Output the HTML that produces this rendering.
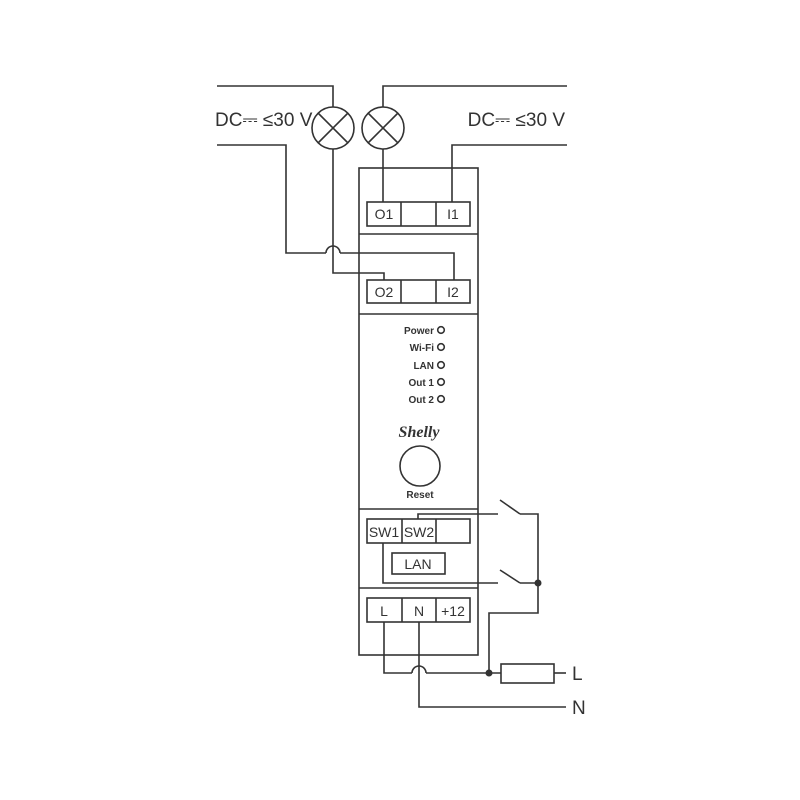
<!DOCTYPE html>
<html><head><style>body{margin:0;background:#fff}svg{display:block}</style></head><body>
<svg width="800" height="800" viewBox="0 0 800 800" xmlns="http://www.w3.org/2000/svg" font-family="Liberation Sans, DejaVu Sans, sans-serif">
<g fill="none" stroke="#333" stroke-width="1.6">
<!-- device -->
<rect x="359" y="168" width="119" height="487"/>
<line x1="359" y1="234" x2="478" y2="234"/>
<line x1="359" y1="314" x2="478" y2="314"/>
<line x1="359" y1="509" x2="478" y2="509"/>
<line x1="359" y1="588" x2="478" y2="588"/>
<!-- terminal blocks -->
<rect x="367" y="202" width="103" height="24"/><line x1="401" y1="202" x2="401" y2="226"/><line x1="436" y1="202" x2="436" y2="226"/>
<rect x="367" y="280" width="103" height="23"/><line x1="401" y1="280" x2="401" y2="303"/><line x1="436" y1="280" x2="436" y2="303"/>
<rect x="367" y="519" width="103" height="24"/><line x1="402" y1="519" x2="402" y2="543"/><line x1="436" y1="519" x2="436" y2="543"/>
<rect x="392" y="553" width="53" height="21"/>
<rect x="367" y="598" width="103" height="24"/><line x1="402" y1="598" x2="402" y2="622"/><line x1="436" y1="598" x2="436" y2="622"/>
<!-- lamps -->
<circle cx="333" cy="128" r="21"/><line x1="318" y1="113" x2="348" y2="143"/><line x1="348" y1="113" x2="318" y2="143"/>
<circle cx="383" cy="128" r="21"/><line x1="368" y1="113" x2="398" y2="143"/><line x1="398" y1="113" x2="368" y2="143"/>
<!-- top wires -->
<polyline points="217,86 333,86 333,107"/>
<polyline points="567,86 383,86 383,107"/>
<polyline points="383,149 383,202"/>
<polyline points="567,145 452,145 452,202"/>
<polyline points="217,145 286,145 286,253 326,253"/>
<path d="M326,253 A7,7 0 0 1 340,253"/>
<polyline points="340,253 454,253 454,280"/>
<polyline points="333,149 333,273 384,273 384,280"/>
<!-- switches -->
<polyline points="418,519 418,514 498,514"/>
<line x1="500" y1="500" x2="520" y2="514"/>
<polyline points="520,514 538,514 538,613 489,613 489,673"/>
<polyline points="383,543 383,583 498,583"/>
<line x1="500" y1="570" x2="520" y2="583"/>
<line x1="520" y1="583" x2="538" y2="583"/>
<!-- bottom wires -->
<polyline points="384,622 384,673 412,673"/>
<path d="M412,673 A7,7 0 0 1 426,673"/>
<polyline points="426,673 501,673"/>
<rect x="501" y="664" width="53" height="19"/>
<line x1="554" y1="673" x2="566" y2="673"/>
<polyline points="419,622 419,707 566,707"/>
<!-- LEDs -->
<circle cx="441" cy="330" r="3.3"/><circle cx="441" cy="347" r="3.3"/><circle cx="441" cy="365" r="3.3"/><circle cx="441" cy="382" r="3.3"/><circle cx="441" cy="399" r="3.3"/>
<circle cx="420" cy="466" r="20"/>
</g>
<circle cx="538" cy="583" r="3.5" fill="#333"/>
<circle cx="489" cy="673" r="3.5" fill="#333"/>
<g fill="#333" font-size="19">
<text x="215" y="126">DC⎓ ≤30 V</text>
<text x="565" y="126" text-anchor="end">DC⎓ ≤30 V</text>
<text x="572" y="680">L</text>
<text x="572" y="714">N</text>
</g>
<g fill="#333" font-size="14" text-anchor="middle">
<text x="384" y="219">O1</text><text x="453" y="219">I1</text>
<text x="384" y="297">O2</text><text x="453" y="297">I2</text>
<text x="384" y="537">SW1</text><text x="419" y="537">SW2</text>
<text x="418" y="569">LAN</text>
<text x="384" y="616">L</text><text x="419" y="616">N</text><text x="453" y="616">+12</text>
</g>
<g fill="#333" font-size="10" font-weight="bold" text-anchor="end">
<text x="434" y="334">Power</text><text x="434" y="351">Wi-Fi</text><text x="434" y="369">LAN</text><text x="434" y="386">Out 1</text><text x="434" y="403">Out 2</text>
</g>
<text x="419" y="437" text-anchor="middle" font-family="Liberation Serif, serif" font-style="italic" font-weight="bold" font-size="16" fill="#333">Shelly</text>
<text x="420" y="498" text-anchor="middle" font-size="10" font-weight="bold" fill="#333">Reset</text>
</svg>
</body></html>
